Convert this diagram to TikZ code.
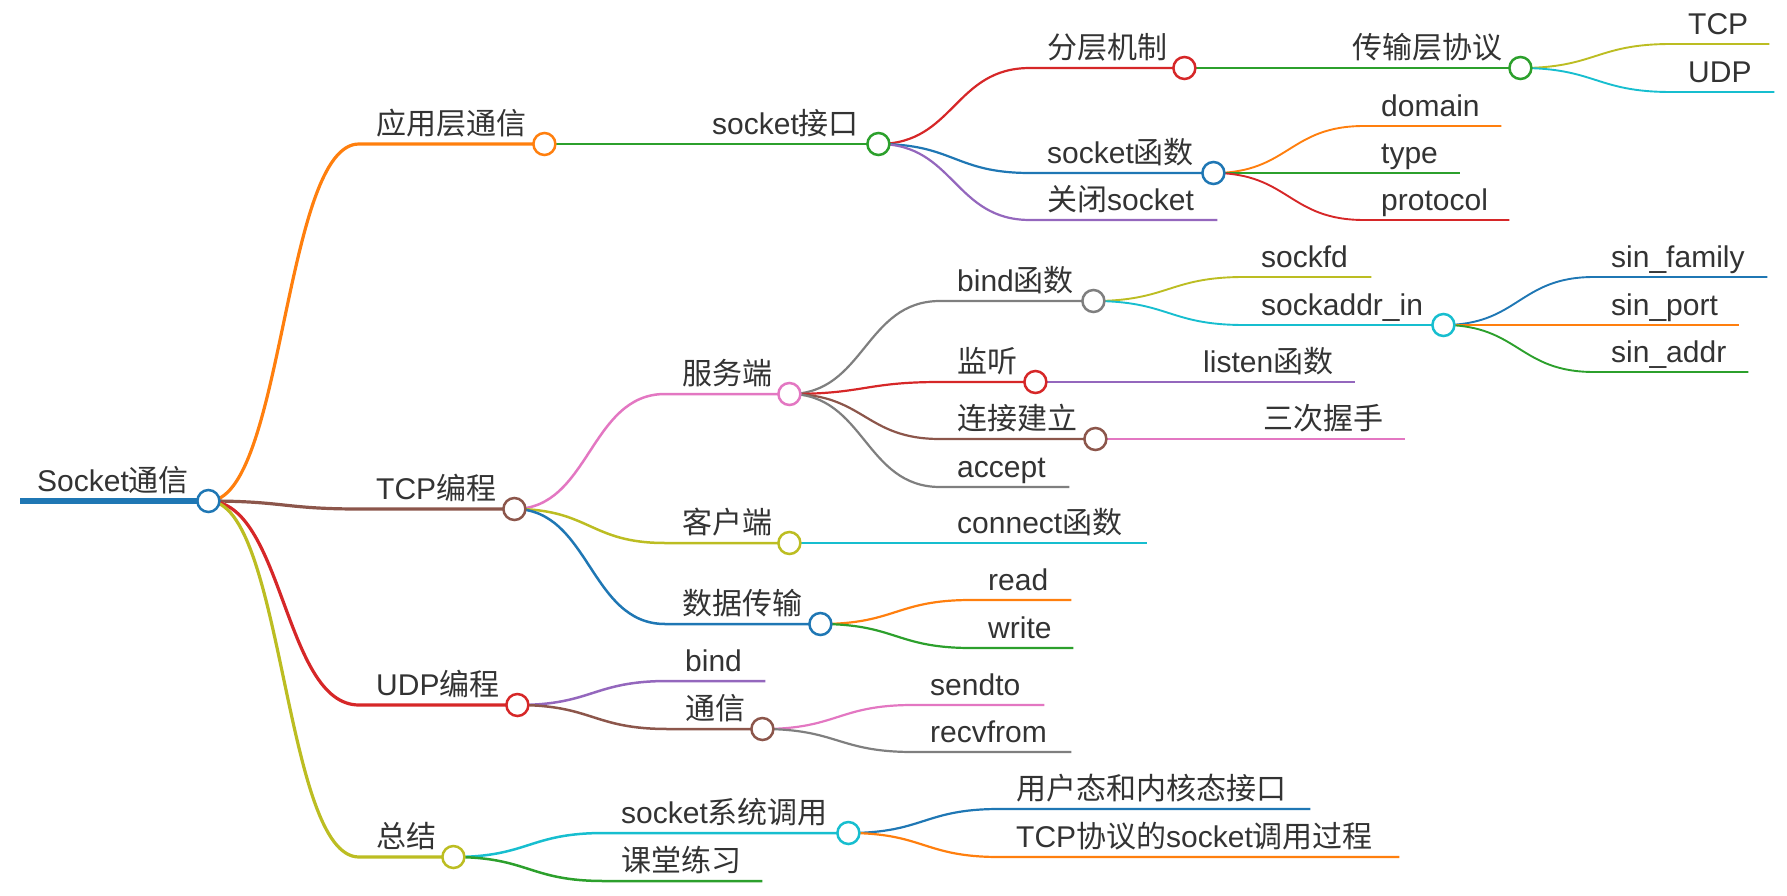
\documentclass[tikz,border=0pt]{standalone}
\usepackage{fontspec}
\setmainfont{Liberation Sans}
\newfontfamily\cjk{Noto Sans CJK SC}
\usepackage{xcolor}
\usepackage{tikz}
\usetikzlibrary{calc}

\definecolor{mmblue}{HTML}{1F77B4}
\definecolor{mmorange}{HTML}{FF7F0E}
\definecolor{mmgreen}{HTML}{2CA02C}
\definecolor{mmred}{HTML}{D62728}
\definecolor{mmpurple}{HTML}{9467BD}
\definecolor{mmbrown}{HTML}{8C564B}
\definecolor{mmpink}{HTML}{E377C2}
\definecolor{mmgray}{HTML}{7F7F7F}
\definecolor{mmolive}{HTML}{BCBD22}
\definecolor{mmcyan}{HTML}{17BECF}
\definecolor{inkgray}{HTML}{333333}

\begin{document}
\begin{tikzpicture}[x=1pt, y=-1pt]
    \tikzstyle{topic} = [anchor=south west, inner xsep=17pt, inner ysep=9pt, text depth=0pt, align=flush left, text=inkgray, font=\fontsize{30}{36}\selectfont]
    \tikzstyle{knob} = [circle, fill=white, line width=2.5pt, minimum size=22pt, inner sep=0pt]
    \tikzstyle{branch} = [to path={let \p1=(\tikztostart), \p2=(\tikztotarget) in .. controls ({(\x1+\x2)/2},\y1) and ({(\x1+\x2)/2},\y2) .. (\tikztotarget)}]
    \tikzstyle{w1} = [line width=3.2pt]
    \tikzstyle{w2} = [line width=2.5pt]
    \tikzstyle{w3} = [line width=2.2pt]
    \tikzstyle{w4} = [line width=1.9pt]

    \useasboundingbox (0,0) rectangle (1787,896);

    % root and first level
    \node[topic, text width=154] (root) at (20,501) {Socket{\cjk 通信}};
    \node[topic, text width=151] (app) at (359,144) {\cjk 应用层通信};
    \node[topic, text width=121] (tcp) at (359,509) {TCP{\cjk 编程}};
    \node[topic, text width=124] (udp) at (359,705) {UDP{\cjk 编程}};
    \node[topic, text width=60] (summary) at (359,857) {\cjk 总结};

    % second level
    \node[topic, text width=149] (sockif) at (695,144) {socket{\cjk 接口}};
    \node[topic, text width=90] (server) at (665,394) {\cjk 服务端};
    \node[topic, text width=90] (client) at (665,543) {\cjk 客户端};
    \node[topic, text width=121] (datax) at (665,624) {\cjk 数据传输};
    \node[topic, text width=63] (ubind) at (668,681) {bind};
    \node[topic, text width=60] (ucomm) at (668,729) {\cjk 通信};
    \node[topic, text width=210] (syscall) at (604,833) {socket{\cjk 系统调用}};
    \node[topic, text width=124] (practice) at (604,881) {\cjk 课堂练习};

    % third level
    \node[topic, text width=120] (layer) at (1030,68) {\cjk 分层机制};
    \node[topic, text width=149] (sockfn) at (1030,173) {socket{\cjk 函数}};
    \node[topic, text width=153] (closefn) at (1030,220) {{\cjk 关闭}socket};
    \node[topic, text width=119] (bindfn) at (940,301) {bind{\cjk 函数}};
    \node[topic, text width=61] (listen) at (940,382) {\cjk 监听};
    \node[topic, text width=121] (connect) at (940,439) {\cjk 连接建立};
    \node[topic, text width=95] (accept) at (940,487) {accept};
    \node[topic, text width=173] (connfn) at (940,543) {connect{\cjk 函数}};
    \node[topic, text width=66] (read) at (971,600) {read};
    \node[topic, text width=68] (write) at (971,648) {write};
    \node[topic, text width=97] (sendto) at (913,705) {sendto};
    \node[topic, text width=124] (recvfrom) at (913,752) {recvfrom};
    \node[topic, text width=277] (kernif) at (999,809) {\cjk 用户态和内核态接口};
    \node[topic, text width=366] (tcpcall) at (999,857) {TCP{\cjk 协议的}socket{\cjk 调用过程}};

    % fourth and fifth level
    \node[topic, text width=151] (transport) at (1335,68) {\cjk 传输层协议};
    \node[topic, text width=103] (domain) at (1364,126) {domain};
    \node[topic, text width=62] (type) at (1364,173) {type};
    \node[topic, text width=111] (protocol) at (1364,220) {protocol};
    \node[topic, text width=93] (sockfd) at (1244,277) {sockfd};
    \node[topic, text width=165] (sockaddr) at (1244,325) {sockaddr\_in};
    \node[topic, text width=135] (listenfn) at (1186,382) {listen{\cjk 函数}};
    \node[topic, text width=125] (handshake) at (1246,439) {\cjk 三次握手};
    \node[topic, text width=64] (ptcp) at (1671,44) {TCP};
    \node[topic, text width=69] (pudp) at (1671,92) {UDP};
    \node[topic, text width=139] (family) at (1594,277) {sin\_family};
    \node[topic, text width=111] (port) at (1594,325) {sin\_port};
    \node[topic, text width=120] (addr) at (1594,372) {sin\_addr};

    % branches with their underlines
    \draw[mmblue, line width=6.5pt] (root.south west) -- (root.south east);
    \draw[mmorange, w1] (root.south east) to[branch] (app.south west) -- (app.south east);
    \draw[mmbrown, w1] (root.south east) to[branch] (tcp.south west) -- (tcp.south east);
    \draw[mmred, w1] (root.south east) to[branch] (udp.south west) -- (udp.south east);
    \draw[mmolive, w1] (root.south east) to[branch] (summary.south west) -- (summary.south east);

    \draw[mmgreen, w2] (app.south east) to[branch] (sockif.south west) -- (sockif.south east);
    \draw[mmpink, w2] (tcp.south east) to[branch] (server.south west) -- (server.south east);
    \draw[mmolive, w2] (tcp.south east) to[branch] (client.south west) -- (client.south east);
    \draw[mmblue, w2] (tcp.south east) to[branch] (datax.south west) -- (datax.south east);
    \draw[mmpurple, w2] (udp.south east) to[branch] (ubind.south west) -- (ubind.south east);
    \draw[mmbrown, w2] (udp.south east) to[branch] (ucomm.south west) -- (ucomm.south east);
    \draw[mmcyan, w2] (summary.south east) to[branch] (syscall.south west) -- (syscall.south east);
    \draw[mmgreen, w2] (summary.south east) to[branch] (practice.south west) -- (practice.south east);

    \draw[mmred, w3] (sockif.south east) to[branch] (layer.south west) -- (layer.south east);
    \draw[mmblue, w3] (sockif.south east) to[branch] (sockfn.south west) -- (sockfn.south east);
    \draw[mmpurple, w3] (sockif.south east) to[branch] (closefn.south west) -- (closefn.south east);
    \draw[mmgray, w3] (server.south east) to[branch] (bindfn.south west) -- (bindfn.south east);
    \draw[mmred, w3] (server.south east) to[branch] (listen.south west) -- (listen.south east);
    \draw[mmbrown, w3] (server.south east) to[branch] (connect.south west) -- (connect.south east);
    \draw[mmgray, w3] (server.south east) to[branch] (accept.south west) -- (accept.south east);
    \draw[mmcyan, w3] (client.south east) to[branch] (connfn.south west) -- (connfn.south east);
    \draw[mmorange, w3] (datax.south east) to[branch] (read.south west) -- (read.south east);
    \draw[mmgreen, w3] (datax.south east) to[branch] (write.south west) -- (write.south east);
    \draw[mmpink, w3] (ucomm.south east) to[branch] (sendto.south west) -- (sendto.south east);
    \draw[mmgray, w3] (ucomm.south east) to[branch] (recvfrom.south west) -- (recvfrom.south east);
    \draw[mmblue, w3] (syscall.south east) to[branch] (kernif.south west) -- (kernif.south east);
    \draw[mmorange, w3] (syscall.south east) to[branch] (tcpcall.south west) -- (tcpcall.south east);

    \draw[mmgreen, w4] (layer.south east) to[branch] (transport.south west) -- (transport.south east);
    \draw[mmorange, w4] (sockfn.south east) to[branch] (domain.south west) -- (domain.south east);
    \draw[mmgreen, w4] (sockfn.south east) to[branch] (type.south west) -- (type.south east);
    \draw[mmred, w4] (sockfn.south east) to[branch] (protocol.south west) -- (protocol.south east);
    \draw[mmolive, w4] (bindfn.south east) to[branch] (sockfd.south west) -- (sockfd.south east);
    \draw[mmcyan, w4] (bindfn.south east) to[branch] (sockaddr.south west) -- (sockaddr.south east);
    \draw[mmpurple, w4] (listen.south east) to[branch] (listenfn.south west) -- (listenfn.south east);
    \draw[mmpink, w4] (connect.south east) to[branch] (handshake.south west) -- (handshake.south east);
    \draw[mmolive, w4] (transport.south east) to[branch] (ptcp.south west) -- (ptcp.south east);
    \draw[mmcyan, w4] (transport.south east) to[branch] (pudp.south west) -- (pudp.south east);
    \draw[mmblue, w4] (sockaddr.south east) to[branch] (family.south west) -- (family.south east);
    \draw[mmorange, w4] (sockaddr.south east) to[branch] (port.south west) -- (port.south east);
    \draw[mmgreen, w4] (sockaddr.south east) to[branch] (addr.south west) -- (addr.south east);

    % knobs on nodes with children
    \node[knob, draw=mmblue] (root-k) at (root.south east) {};
    \node[knob, draw=mmorange] (app-k) at (app.south east) {};
    \node[knob, draw=mmbrown] (tcp-k) at (tcp.south east) {};
    \node[knob, draw=mmred] (udp-k) at (udp.south east) {};
    \node[knob, draw=mmolive] (summary-k) at (summary.south east) {};
    \node[knob, draw=mmgreen] (sockif-k) at (sockif.south east) {};
    \node[knob, draw=mmpink] (server-k) at (server.south east) {};
    \node[knob, draw=mmolive] (client-k) at (client.south east) {};
    \node[knob, draw=mmblue] (datax-k) at (datax.south east) {};
    \node[knob, draw=mmbrown] (ucomm-k) at (ucomm.south east) {};
    \node[knob, draw=mmcyan] (syscall-k) at (syscall.south east) {};
    \node[knob, draw=mmred] (layer-k) at (layer.south east) {};
    \node[knob, draw=mmblue] (sockfn-k) at (sockfn.south east) {};
    \node[knob, draw=mmgray] (bindfn-k) at (bindfn.south east) {};
    \node[knob, draw=mmred] (listen-k) at (listen.south east) {};
    \node[knob, draw=mmbrown] (connect-k) at (connect.south east) {};
    \node[knob, draw=mmgreen] (transport-k) at (transport.south east) {};
    \node[knob, draw=mmcyan] (sockaddr-k) at (sockaddr.south east) {};
\end{tikzpicture}
\end{document}
